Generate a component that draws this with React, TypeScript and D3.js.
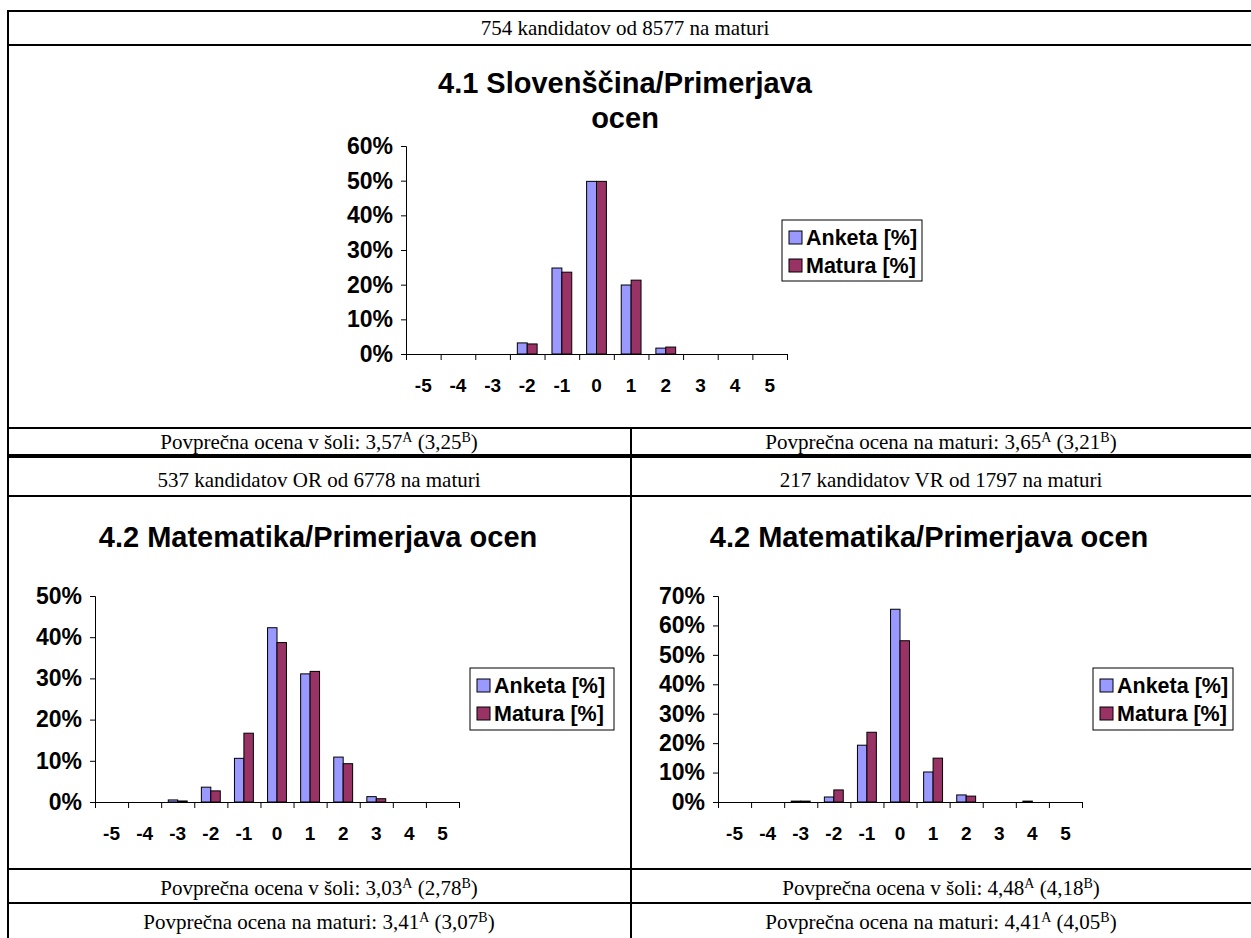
import React, { useEffect, useRef } from 'react';
import * as d3 from 'd3';

// grade differences on the x axis
const categories = ['-5', '-4', '-3', '-2', '-1', '0', '1', '2', '3', '4', '5'];
const seriesNames = ['Anketa [%]', 'Matura [%]'];
const seriesColors = ['#9999FF', '#993366'];

// 4.1 Slovenščina
const sloAnketa = [0, 0, 0, 3.2, 24.8, 49.8, 19.9, 1.7, 0, 0, 0];
const sloMatura = [0, 0, 0, 2.9, 23.6, 49.8, 21.3, 2.0, 0, 0, 0];
// 4.2 Matematika OR
const matOrAnketa = [0, 0, 0.5, 3.6, 10.6, 42.3, 31.1, 10.9, 1.3, 0, 0];
const matOrMatura = [0, 0, 0.25, 2.7, 16.7, 38.7, 31.7, 9.3, 0.8, 0, 0];
// 4.2 Matematika VR
const matVrAnketa = [0, 0, 0.3, 1.7, 19.3, 65.5, 10.2, 2.4, 0, 0.3, 0];
const matVrMatura = [0, 0, 0.3, 4.1, 23.7, 54.8, 14.9, 2.0, 0, 0, 0];

const ARIAL = '"Liberation Sans", Arial, sans-serif';
const TIMES = '"Liberation Serif", "Times New Roman", serif';

type ChartCfg = {
    title: string[];
    titleX: number;
    titleY: number;
    x0: number;
    x1: number;
    yTop: number;
    yBase: number;
    max: number;
    anketa: number[];
    matura: number[];
    legend: { x: number; y: number; w: number; h: number };
};

const charts: ChartCfg[] = [
    {
        title: ['4.1 Slovenščina/Primerjava', 'ocen'],
        titleX: 625, titleY: 93,
        x0: 406, x1: 787, yTop: 146, yBase: 354, max: 60,
        anketa: sloAnketa, matura: sloMatura,
        legend: { x: 782, y: 220, w: 140, h: 61 },
    },
    {
        title: ['4.2 Matematika/Primerjava ocen'],
        titleX: 318, titleY: 547,
        x0: 95, x1: 459, yTop: 596, yBase: 802, max: 50,
        anketa: matOrAnketa, matura: matOrMatura,
        legend: { x: 470, y: 668, w: 144, h: 62 },
    },
    {
        title: ['4.2 Matematika/Primerjava ocen'],
        titleX: 929, titleY: 547,
        x0: 718, x1: 1082, yTop: 596, yBase: 802, max: 70,
        anketa: matVrAnketa, matura: matVrMatura,
        legend: { x: 1093, y: 668, w: 140, h: 62 },
    },
];

// table cells: plain text and superscripts alternate
const cellTexts: { x: number; y: number; parts: string[] }[] = [
    { x: 625, y: 35, parts: ['754 kandidatov od 8577 na maturi'] },
    { x: 319, y: 449, parts: ['Povprečna ocena v šoli: 3,57', 'A', ' (3,25', 'B', ')'] },
    { x: 941, y: 449, parts: ['Povprečna ocena na maturi: 3,65', 'A', ' (3,21', 'B', ')'] },
    { x: 319, y: 487, parts: ['537 kandidatov OR od 6778 na maturi'] },
    { x: 941, y: 487, parts: ['217 kandidatov VR od 1797 na maturi'] },
    { x: 319, y: 895, parts: ['Povprečna ocena v šoli: 3,03', 'A', ' (2,78', 'B', ')'] },
    { x: 941, y: 895, parts: ['Povprečna ocena v šoli: 4,48', 'A', ' (4,18', 'B', ')'] },
    { x: 319, y: 929, parts: ['Povprečna ocena na maturi: 3,41', 'A', ' (3,07', 'B', ')'] },
    { x: 941, y: 929, parts: ['Povprečna ocena na maturi: 4,41', 'A', ' (4,05', 'B', ')'] },
];

const hLines = [
    { y: 11, w: 2 }, { y: 45, w: 2 }, { y: 428, w: 2 }, { y: 456, w: 4 },
    { y: 496, w: 2 }, { y: 869, w: 2 }, { y: 903, w: 2 },
];

function drawChart(g: d3.Selection<SVGGElement, unknown, null, undefined>, c: ChartCfg) {
    const xBand = d3.scaleBand<string>().domain(categories).range([c.x0, c.x1]);
    const xInner = d3.scaleBand<number>()
        .domain([0, 1])
        .range([0, xBand.bandwidth()])
        .paddingInner(0)
        .paddingOuter(0.75);
    const xLin = d3.scaleLinear().domain([0, categories.length]).range([c.x0, c.x1]);
    const y = d3.scaleLinear().domain([0, c.max]).range([c.yBase, c.yTop]);

    // title
    const title = g.append('text')
        .attr('x', c.titleX)
        .attr('y', c.titleY)
        .attr('text-anchor', 'middle')
        .attr('font-family', ARIAL)
        .attr('font-weight', 'bold')
        .attr('font-size', 29);
    c.title.forEach((t, i) => {
        title.append('tspan').attr('x', c.titleX).attr('dy', i === 0 ? 0 : 35).text(t);
    });

    // bars
    const series = [c.anketa, c.matura];
    series.forEach((vals, si) => {
        g.append('g')
            .selectAll('rect')
            .data(vals)
            .join('rect')
            .attr('x', (_, i) => (xBand(categories[i]) ?? 0) + (xInner(si) ?? 0))
            .attr('y', d => y(d))
            .attr('width', xInner.bandwidth())
            .attr('height', d => c.yBase - y(d))
            .attr('fill', seriesColors[si])
            .attr('stroke', d => (d > 0 ? '#000' : 'none'))
            .attr('stroke-width', 1);
    });

    // y axis
    const yAxis = g.append('g')
        .attr('transform', `translate(${c.x0},0)`)
        .call(d3.axisLeft(y).ticks(c.max / 10).tickSize(5).tickSizeOuter(5).tickPadding(8)
            .tickFormat(d => `${d}%`));
    yAxis.selectAll('text')
        .attr('font-family', ARIAL)
        .attr('font-weight', 'bold')
        .attr('font-size', 23)
        .attr('fill', '#000');
    yAxis.selectAll('line,path').attr('stroke', '#000');

    // x axis line and ticks at category boundaries
    const xAxis = g.append('g')
        .attr('transform', `translate(0,${c.yBase})`)
        .call(d3.axisBottom(xLin).tickValues(d3.range(categories.length + 1)).tickSize(6).tickSizeOuter(0)
            .tickFormat(() => ''));
    xAxis.selectAll('line,path').attr('stroke', '#000');

    // x labels
    const xLab = g.append('g')
        .attr('transform', `translate(0,${c.yBase + 19})`)
        .call(d3.axisBottom(xBand).tickSize(0).tickPadding(6));
    xLab.select('.domain').remove();
    xLab.selectAll('text')
        .attr('font-family', ARIAL)
        .attr('font-weight', 'bold')
        .attr('font-size', 19)
        .attr('fill', '#000');

    // legend
    const lg = g.append('g').attr('transform', `translate(${c.legend.x},${c.legend.y})`);
    lg.append('rect')
        .attr('width', c.legend.w)
        .attr('height', c.legend.h)
        .attr('fill', '#fff')
        .attr('stroke', '#000')
        .attr('stroke-width', 1);
    seriesNames.forEach((name, i) => {
        const row = lg.append('g').attr('transform', `translate(7,${11 + i * 28})`);
        row.append('rect')
            .attr('width', 13)
            .attr('height', 13)
            .attr('fill', seriesColors[i])
            .attr('stroke', '#000');
        row.append('text')
            .attr('x', 17)
            .attr('y', 14)
            .attr('font-family', ARIAL)
            .attr('font-weight', 'bold')
            .attr('font-size', 21.5)
            .text(name);
    });
}

export default () => {
    const width = 1251;
    const height = 938;
    const svgRef = useRef<SVGSVGElement>(null);

    useEffect(() => {
        const svg = d3.select(svgRef.current);
        svg.selectAll('*').remove();

        svg.append('rect').attr('width', width).attr('height', height).attr('fill', '#fff');

        // table grid
        const grid = svg.append('g').attr('stroke', '#000');
        hLines.forEach(l => {
            grid.append('line')
                .attr('x1', 7).attr('x2', width)
                .attr('y1', l.y).attr('y2', l.y)
                .attr('stroke-width', l.w);
        });
        grid.append('line').attr('x1', 8).attr('x2', 8).attr('y1', 10).attr('y2', height).attr('stroke-width', 2);
        grid.append('line').attr('x1', 631).attr('x2', 631).attr('y1', 428).attr('y2', height).attr('stroke-width', 2);

        // cell texts
        cellTexts.forEach(t => {
            const txt = svg.append('text')
                .attr('x', t.x)
                .attr('y', t.y)
                .attr('text-anchor', 'middle')
                .attr('font-family', TIMES)
                .attr('font-size', 21);
            t.parts.forEach((p, i) => {
                const sp = txt.append('tspan').text(p);
                if (i % 2 === 1) sp.attr('font-size', 14).attr('baseline-shift', '50%');
            });
        });

        charts.forEach(c => drawChart(svg.append('g'), c));
    }, []);

    return <svg ref={svgRef} width={width} height={height}
        style={{ position: 'absolute', left: 0, top: 0 }}></svg>;
};
